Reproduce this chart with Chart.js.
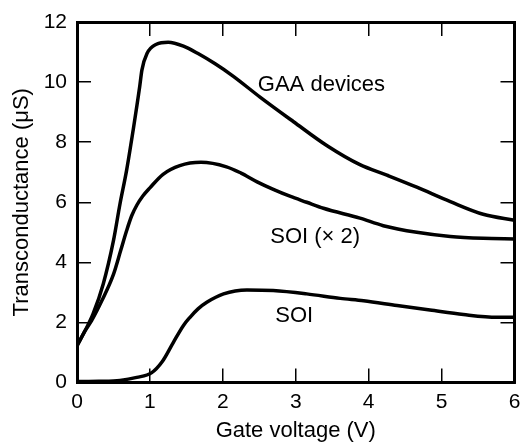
<!DOCTYPE html>
<html>
<head>
<meta charset="utf-8">
<script src="https://cdn.jsdelivr.net/npm/chart.js@4/dist/chart.umd.min.js"></script>
<style>
  html, body { margin: 0; padding: 0; background: #fff; }
  #wrap { width: 520px; height: 444px; }
</style>
</head>
<body>
<div id="wrap"><canvas id="myChart" width="520" height="444"></canvas></div>
<script>
// gate voltage (V) / transconductance (uS)
const gaaV = [0, 0.11, 0.22, 0.36, 0.5, 0.59, 0.68, 0.77, 0.86, 0.89, 0.96, 1.09, 1.25, 1.46, 1.66, 1.9, 2.14, 2.51, 2.97, 3.43, 3.88, 4.25, 4.66, 5.12, 5.57, 6];
const gaaG = [1.22, 1.72, 2.28, 3.28, 4.72, 5.95, 7.06, 8.4, 9.85, 10.4, 10.95, 11.26, 11.33, 11.2, 10.95, 10.6, 10.2, 9.5, 8.68, 7.88, 7.25, 6.9, 6.5, 6.02, 5.6, 5.4];

const soi2V = [0, 0.11, 0.2, 0.34, 0.5, 0.6, 0.68, 0.75, 0.82, 0.9, 1.0, 1.18, 1.41, 1.7, 2.05, 2.25, 2.47, 2.7, 2.92, 3.15, 3.38, 3.88, 4.2, 4.66, 5.12, 5.57, 6];
const soi2G = [1.22, 1.72, 2.06, 2.72, 3.6, 4.4, 5.05, 5.55, 5.9, 6.2, 6.48, 6.93, 7.22, 7.33, 7.18, 6.97, 6.68, 6.42, 6.2, 6.0, 5.8, 5.47, 5.22, 5.0, 4.86, 4.8, 4.78];

const soiV = [0, 0.3, 0.59, 0.82, 1.02, 1.17, 1.32, 1.46, 1.55, 1.66, 1.78, 2.01, 2.33, 2.69, 3.15, 3.61, 3.93, 4.39, 4.84, 5.3, 5.76, 6];
const soiG = [0.03, 0.04, 0.07, 0.17, 0.32, 0.7, 1.33, 1.9, 2.17, 2.45, 2.67, 2.95, 3.08, 3.06, 2.95, 2.8, 2.72, 2.56, 2.41, 2.26, 2.17, 2.17];

const xTicks = [0, 1, 2, 3, 4, 5, 6];
const yTicks = [0, 2, 4, 6, 8, 10, 12];

// curve labels: text and where it sits (data units, left edge / middle)
const labelText = ["GAA devices", "SOI (\u00d7 2)", "SOI"];
const labelX = [2.48, 2.65, 2.72];
const labelY = [9.9, 4.84, 2.2];

const FONT = "'Liberation Sans', Arial, Helvetica, sans-serif";
const TICK_LEN = 14;

function lineSet(label, xs, ys) {
  return {
    label: label,
    data: xs.map((v, i) => ({ x: v, y: ys[i] })),
    borderColor: "#000",
    borderWidth: 3.5,
    pointRadius: 0,
    fill: false,
    cubicInterpolationMode: "monotone",
  };
}

// inward tick marks + thick box edge, drawn by the axes themselves
const gridOpts = {
  display: true,
  drawOnChartArea: false,
  drawTicks: true,
  tickLength: -TICK_LEN,
  color: "#000",
  lineWidth: 1.5,
};
const borderOpts = { display: true, color: "#000", width: 3 };

function noPad(s) {
  s.paddingLeft = 0; s.paddingRight = 0; s.paddingTop = 0; s.paddingBottom = 0;
}

// axis with same range but no labels (top and right sides of the box)
function sideAxis(pos, ticks, size) {
  return {
    type: "linear",
    position: pos,
    min: ticks[0],
    max: ticks[ticks.length - 1],
    afterBuildTicks: (s) => { s.ticks = ticks.map((v) => ({ value: v })); },
    afterFit: (s) => {
      if (size === "h") s.height = 0; else s.width = 0;
      noPad(s);
    },
    grid: gridOpts,
    border: borderOpts,
    ticks: { display: false },
  };
}

const curveLabels = {
  id: "curveLabels",
  afterDraw(chart) {
    const ctx = chart.ctx;
    const sx = chart.scales.x, sy = chart.scales.y;
    ctx.save();
    ctx.fillStyle = "#000";
    ctx.font = "22px " + FONT;
    ctx.textAlign = "left";
    ctx.textBaseline = "middle";
    for (let i = 0; i < labelText.length; i++) {
      ctx.fillText(labelText[i], sx.getPixelForValue(labelX[i]), sy.getPixelForValue(labelY[i]));
    }
    ctx.restore();
  },
};

new Chart(document.getElementById("myChart"), {
  type: "line",
  data: {
    datasets: [
      lineSet("GAA devices", gaaV, gaaG),
      lineSet("SOI (x 2)", soi2V, soi2G),
      lineSet("SOI", soiV, soiG),
    ],
  },
  options: {
    responsive: false,
    devicePixelRatio: 1,
    animation: false,
    layout: { padding: { top: 22, right: 5.5, left: 0, bottom: 0 } },
    plugins: {
      legend: { display: false },
      tooltip: { enabled: false },
    },
    scales: {
      x: {
        type: "linear",
        position: "bottom",
        min: xTicks[0],
        max: xTicks[xTicks.length - 1],
        afterBuildTicks: (s) => { s.ticks = xTicks.map((v) => ({ value: v })); },
        afterFit: (s) => { s.height = 61.5; noPad(s); },
        grid: gridOpts,
        border: borderOpts,
        ticks: { color: "#000", padding: 7 + TICK_LEN, maxRotation: 0, font: { family: FONT, size: 21 } },
        title: {
          display: true,
          text: "Gate voltage (V)",
          color: "#000",
          padding: { top: 0, bottom: 0 },
          font: { family: FONT, size: 22 },
        },
      },
      x2: sideAxis("top", xTicks, "h"),
      y: {
        type: "linear",
        position: "left",
        min: yTicks[0],
        max: yTicks[yTicks.length - 1],
        afterBuildTicks: (s) => { s.ticks = yTicks.map((v) => ({ value: v })); },
        afterFit: (s) => { s.width = 77; noPad(s); },
        grid: gridOpts,
        border: borderOpts,
        ticks: { color: "#000", padding: 10 + TICK_LEN, font: { family: FONT, size: 21 } },
        title: {
          display: true,
          text: "Transconductance (\u03bcS)",
          color: "#000",
          padding: { top: 9, bottom: 0 },
          font: { family: FONT, size: 22 },
        },
      },
      y2: sideAxis("right", yTicks, "w"),
    },
  },
  plugins: [curveLabels],
});
</script>
</body>
</html>
